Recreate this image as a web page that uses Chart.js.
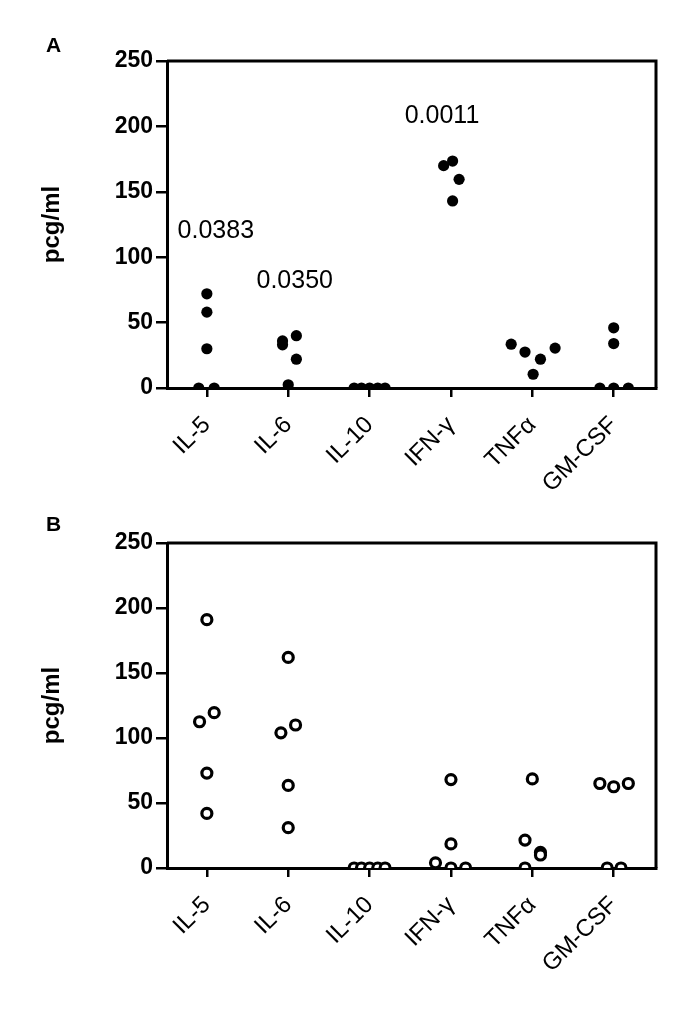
<!DOCTYPE html>
<html lang="en">

<head>
    <meta charset="UTF-8">
    <title>Cytokines</title>
    <script src="https://cdn.jsdelivr.net/npm/chart.js"></script>
    <style>
        body {
            margin: 0;
            background: #fff;
            font-family: 'Liberation Sans', Arial, sans-serif;
        }

        .wrap {
            position: absolute;
            left: 0;
            width: 685px;
        }

        .panel-letter {
            position: absolute;
            left: 46px;
            font-weight: bold;
            font-size: 21px;
        }
    </style>
</head>

<body>
    <div class="wrap" style="top:0;height:490px"><canvas id="chartA" width="685" height="490"></canvas></div>
    <div class="wrap" style="top:490px;height:521px"><canvas id="chartB" width="685" height="521"></canvas></div>
    <div class="panel-letter" style="top:33px">A</div>
    <div class="panel-letter" style="top:512px">B</div>

    <script>
        const categories = ['IL-5', 'IL-6', 'IL-10', 'IFN-\u03b3', 'TNF\u03b1', 'GM-CSF'];
        const yTicks = [0, 50, 100, 150, 200, 250];

        // panel A values (pcg/ml) and horizontal jitter within each column
        const valuesA = [
            [72, 58, 30, 0, 0],
            [36, 33, 40, 22, 2.5],
            [0, 0, 0, 0, 0],
            [170, 173.5, 159.5, 143],
            [33.5, 27.5, 22, 10.5, 30.5],
            [46, 34, 0, 0, 0]
        ];
        const jitterA = [
            [0, 0, 0, -0.1, 0.09],
            [-0.07, -0.07, 0.1, 0.1, 0],
            [-0.19, -0.1, 0, 0.1, 0.19],
            [-0.09, 0.02, 0.1, 0.02],
            [-0.26, -0.09, 0.1, 0.01, 0.28],
            [0, 0, -0.17, 0, 0.18]
        ];
        // p-values shown above columns
        const pLabels = ['0.0383', '0.0350', '0.0011'];
        const pColumn = [0.11, 1.08, 2.89];
        const pLevel = [120, 82, 208];

        // panel B values and jitter
        const valuesB = [
            [191, 112.5, 119.5, 73, 42],
            [162, 104, 110, 63.5, 31],
            [0, 0, 0, 0, 0],
            [68, 18.5, 4, 0, 0],
            [68.5, 21.5, 12, 10, 0],
            [65, 62.5, 65, 0, 0]
        ];
        const jitterB = [
            [0, -0.09, 0.09, 0, 0],
            [0, -0.09, 0.09, 0, 0],
            [-0.19, -0.1, 0, 0.1, 0.19],
            [0, 0, -0.19, 0, 0.18],
            [0, -0.09, 0.1, 0.1, -0.09],
            [-0.17, 0, 0.18, -0.08, 0.09]
        ];

        function toPoints(values, jitter) {
            const pts = [];
            values.forEach((col, i) => {
                col.forEach((v, k) => pts.push({ x: i + jitter[i][k], y: v }));
            });
            return pts;
        }

        // draws top and right border of the plot frame, plus the p-value texts
        const framePlugin = {
            id: 'frame',
            afterDraw(chart, args, opts) {
                const { ctx, chartArea: a } = chart;
                ctx.save();
                ctx.strokeStyle = '#000';
                ctx.lineWidth = 3;
                ctx.beginPath();
                ctx.moveTo(a.left, a.top);
                ctx.lineTo(a.right, a.top);
                ctx.lineTo(a.right, a.bottom);
                ctx.stroke();
                if (opts.texts) {
                    ctx.fillStyle = '#000';
                    ctx.font = '25px "Liberation Sans", Arial, sans-serif';
                    ctx.textAlign = 'center';
                    ctx.textBaseline = 'middle';
                    opts.texts.forEach((t, i) => {
                        ctx.fillText(t, chart.scales.x.getPixelForValue(opts.cols[i]),
                            chart.scales.y.getPixelForValue(opts.levels[i]));
                    });
                }
                ctx.restore();
            }
        };

        function makeChart(id, points, filled, padTop, xHeight, texts) {
            return new Chart(document.getElementById(id), {
                type: 'scatter',
                data: {
                    datasets: [{
                        data: points,
                        pointRadius: filled ? 5.6 : 5,
                        pointHoverRadius: filled ? 5.6 : 5,
                        pointBackgroundColor: filled ? '#000' : '#fff',
                        pointBorderColor: '#000',
                        pointBorderWidth: filled ? 0 : 3.2
                    }]
                },
                options: {
                    responsive: false,
                    animation: false,
                    layout: { padding: { top: padTop, right: 29, left: 0, bottom: 0 } },
                    plugins: {
                        legend: { display: false },
                        tooltip: { enabled: false },
                        frame: texts ? { texts: pLabels, cols: pColumn, levels: pLevel } : {}
                    },
                    scales: {
                        x: {
                            type: 'linear',
                            min: -0.49,
                            max: 5.52,
                            afterBuildTicks: s => { s.ticks = categories.map((c, i) => ({ value: i })); },
                            afterFit: s => { s.height = xHeight; },
                            border: { color: '#000', width: 3 },
                            grid: { drawOnChartArea: false, drawTicks: true, tickLength: 9, color: '#000', lineWidth: 2.5 },
                            ticks: {
                                autoSkip: false,
                                minRotation: 45,
                                maxRotation: 45,
                                padding: 14,
                                color: '#000',
                                font: { family: '"Liberation Sans", Arial, sans-serif', size: 24 },
                                callback: v => categories[v]
                            }
                        },
                        y: {
                            min: 0,
                            max: 250,
                            afterBuildTicks: s => { s.ticks = yTicks.map(v => ({ value: v })); },
                            afterFit: s => { s.width = 167; },
                            border: { color: '#000', width: 3 },
                            grid: { drawOnChartArea: false, drawTicks: true, tickLength: 11, color: '#000', lineWidth: 2.5 },
                            ticks: {
                                padding: 3,
                                color: '#000',
                                font: { family: '"Liberation Sans", Arial, sans-serif', size: 23, weight: 'bold' }
                            },
                            title: {
                                display: true,
                                text: 'pcg/ml',
                                color: '#000',
                                padding: { top: 38, bottom: 0 },
                                font: { family: '"Liberation Sans", Arial, sans-serif', size: 24, weight: 'bold' }
                            }
                        }
                    }
                },
                plugins: [framePlugin]
            });
        }

        makeChart('chartA', toPoints(valuesA, jitterA), true, 61, 102, true);
        makeChart('chartB', toPoints(valuesB, jitterB), false, 53, 143, false);
    </script>
</body>

</html>
